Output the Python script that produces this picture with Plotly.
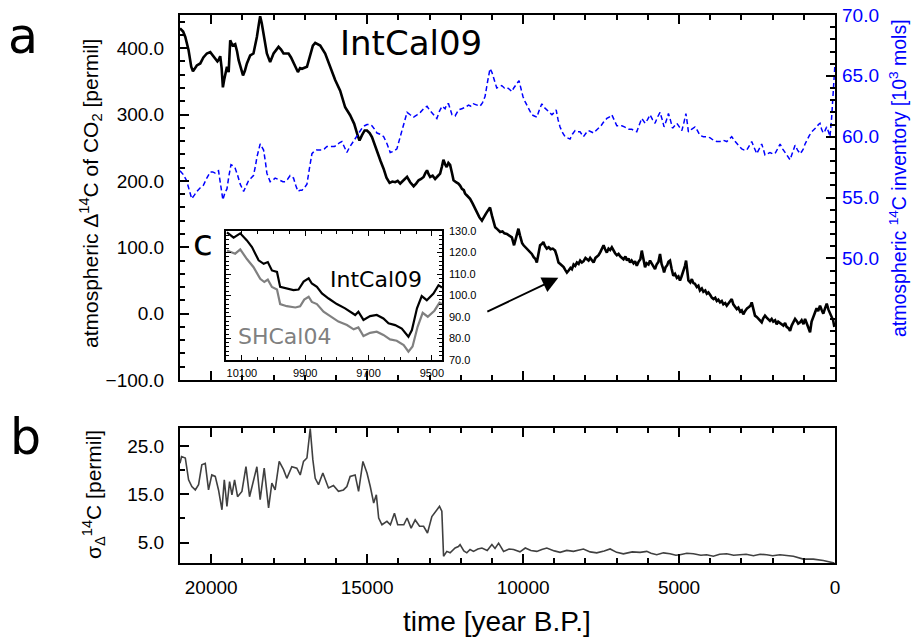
import plotly.graph_objects as go

# ---------------- data ----------------
# IntCal09 atmospheric D14C (permil) vs time (yr BP)
intcal_year = [21000,20900,20830,20725,20640,20585,20460,20350,20250,20140,20030,19925,19800,19765,19710,19665,19625,19585,19550,19495,19440,19390,19315,19230,19170,19120,18980,18920,18855,18750,18645,18535,18460,18430,18380,18320,18215,18110,18000,17840,17760,17680,17520,17440,17360,17220,17150,17090,16930,16825,16740,16665,16505,16345,16185,16025,15865,15705,15545,15415,15300,15245,15165,15080,15005,14920,14845,14685,14570,14470,14380,14280,14190,14100,14020,13940,13850,13720,13620,13510,13430,13350,13270,13190,13130,13080,13030,12980,12900,12820,12740,12660,12600,12555,12500,12450,12395,12340,12280,12230,12150,12075,12020,11960,11900,11860,11800,11700,11620,11540,11460,11400,11320,11260,11200,11160,11110,11060,11000,10950,10895,10820,10735,10660,10600,10520,10440,10360,10320,10290,10240,10190,10150,10100,10060,10030,9985,9930,9880,9830,9775,9720,9660,9600,9560,9510,9455,9400,9350,9300,9240,9180,9120,9050,8975,8920,8865,8790,8700,8650,8595,8540,8480,8435,8380,8330,8275,8220,8170,8115,8060,8000,7955,7900,7850,7790,7740,7680,7640,7580,7520,7470,7420,7370,7315,7260,7210,7155,7100,7050,6995,6940,6880,6830,6780,6720,6670,6620,6570,6520,6460,6410,6355,6300,6240,6195,6140,6090,6040,5980,5930,5880,5830,5770,5720,5660,5610,5560,5510,5480,5430,5380,5340,5290,5240,5185,5130,5070,5020,4970,4920,4870,4810,4775,4740,4700,4640,4590,4540,4490,4430,4380,4330,4270,4220,4160,4110,4060,4000,3950,3895,3840,3790,3740,3685,3630,3580,3520,3470,3420,3360,3310,3260,3200,3150,3100,3040,2990,2940,2880,2820,2760,2710,2670,2620,2565,2510,2460,2400,2350,2300,2245,2190,2140,2085,2030,1980,1920,1870,1820,1760,1710,1655,1600,1550,1490,1440,1390,1330,1280,1230,1180,1120,1070,1010,960,910,860,800,750,700,640,590,540,480,430,375,320,265,210,160,110,60,20]
intcal_d14c = [430,425,417,397,372,365,374,377,386,392,394,387,380,382,388,370,341,352,359,372,364,412,404,406,395,382,359,366,377,389,392,417,440,448,438,422,392,379,392,402,398,392,392,386,377,364,370,369,372,392,404,408,404,392,372,352,336,311,299,286,268,261,269,276,276,272,266,243,230,218,205,197,199,198,200,196,200,206,198,192,196,201,203,206,212,216,210,206,208,203,207,211,222,232,225,221,227,224,212,201,198,196,193,188,186,181,178,173,166,158,152,145,140,146,150,153,157,160,148,138,130,127,123,124,121,120,118,115,108,103,112,122,128,118,110,106,103,100,98,96,93,90,85,82,77,92,103,105,108,102,98,100,97,98,95,87,77,74,70,66,62,65,69,67,74,72,77,75,80,77,79,84,82,80,84,81,77,84,86,88,93,97,103,97,92,98,96,100,94,91,88,90,86,84,82,86,80,83,77,80,76,79,72,78,82,95,80,70,76,74,80,76,72,67,74,78,90,75,68,62,70,73,78,80,68,57,60,54,56,50,56,62,72,80,64,50,47,52,46,45,40,42,35,38,33,35,30,32,28,24,22,24,19,21,17,19,14,16,12,15,18,22,14,10,7,9,3,5,-1,4,8,10,12,17,6,-3,-5,-8,-10,-13,-7,-3,-6,-9,-11,-8,-12,-10,-16,-12,-14,-17,-18,-14,-20,-22,-26,-18,-12,-8,-11,-15,-13,-10,-16,-8,-14,-20,-28,-12,-6,2,8,4,12,6,0,8,15,6,0,-4,-10,-20]

# atmospheric 14C inventory (10^3 mols)
inv_year = [21000,20900,20790,20700,20625,20540,20460,20350,20250,20140,20030,19950,19870,19765,19700,19625,19560,19495,19430,19365,19300,19230,19150,19070,18960,18880,18800,18720,18645,18580,18535,18430,18370,18320,18260,18215,18110,18030,17950,17870,17790,17700,17630,17550,17470,17360,17290,17220,17150,17090,17010,16930,16850,16770,16700,16630,16540,16450,16370,16290,16210,16130,16050,15970,15890,15810,15730,15650,15570,15490,15410,15330,15250,15165,15080,15005,14920,14845,14760,14685,14580,14470,14360,14260,14150,14045,13960,13885,13800,13720,13620,13510,13400,13295,13190,13080,13000,12925,12840,12765,12680,12600,12500,12440,12390,12330,12280,12180,12070,11965,11860,11750,11670,11590,11480,11380,11300,11220,11140,11060,11000,10950,10900,10845,10760,10685,10600,10520,10440,10360,10300,10255,10190,10130,10060,10005,9940,9880,9800,9720,9640,9560,9480,9400,9320,9240,9160,9075,9000,8940,8880,8815,8730,8655,8580,8495,8420,8335,8250,8175,8120,8065,7980,7905,7820,7740,7660,7580,7500,7420,7370,7315,7240,7155,7080,6995,6910,6835,6750,6675,6600,6515,6430,6355,6270,6195,6140,6090,6010,5930,5850,5770,5690,5610,5540,5480,5410,5340,5270,5210,5140,5070,4990,4910,4840,4780,4740,4700,4600,4490,4410,4330,4220,4110,4000,3895,3790,3685,3580,3470,3390,3310,3230,3150,3070,2990,2910,2830,2750,2670,2590,2510,2430,2350,2300,2245,2160,2085,2000,1925,1840,1760,1680,1600,1520,1440,1360,1280,1200,1120,1060,1015,960,905,820,745,660,585,530,480,430,375,320,265,210,160,110,75,20,0]
inv_val = [57.2,56.9,56.4,55.6,54.9,55.2,55.5,55.8,56.0,56.6,57.1,57.1,57.0,57.2,56.2,54.8,55.4,55.7,56.8,57.7,57.6,57.4,56.8,56.1,55.5,55.9,56.4,56.6,56.8,57.6,58.3,59.4,59.1,58.9,57.9,57.0,56.3,56.4,56.6,56.5,56.4,56.3,56.3,56.5,56.8,56.6,56.0,55.5,55.6,55.6,55.8,56.1,57.4,58.6,58.8,58.9,58.9,58.9,59.0,59.2,59.2,59.2,59.2,59.3,59.5,59.6,59.1,58.7,59.1,59.4,59.7,60.0,60.4,60.7,60.9,61.0,61.0,60.9,60.6,60.3,60.2,60.0,59.4,58.7,58.8,59.0,59.8,60.5,61.3,62.0,61.8,61.6,61.8,62.0,62.3,62.5,62.2,62.0,61.7,61.5,62.1,62.5,62.3,62.7,62.7,62.1,61.8,61.7,62.2,62.3,62.4,62.6,62.5,62.7,62.6,62.5,62.8,63.3,64.5,65.6,65.3,64.9,64.4,64.0,64.1,64.2,64.0,64.05,63.9,63.7,64.0,64.2,64.4,64.6,63.9,63.3,62.9,62.6,62.2,61.8,61.7,61.6,62.2,62.7,62.4,62.2,62.0,61.8,62.0,62.2,61.4,60.8,60.3,60.0,59.9,59.8,60.2,60.5,60.4,60.4,60.2,60.0,60.3,60.5,60.4,60.3,60.5,60.7,60.9,61.2,61.3,61.5,61.6,61.8,61.3,60.9,60.9,60.9,60.8,60.7,60.6,60.6,60.5,60.4,61.0,61.5,61.3,61.1,61.4,61.8,61.4,61.1,61.6,62.0,61.4,60.8,61.3,61.9,61.3,60.7,60.9,61.1,60.8,60.5,61.2,61.9,61.2,60.4,60.6,60.8,60.5,60.1,60.0,60.0,59.9,59.7,59.6,59.6,59.7,59.6,59.8,60.0,59.7,59.4,59.2,59.0,58.9,58.9,59.2,59.6,59.1,58.6,59.0,59.4,59.0,58.5,58.6,58.7,58.6,58.6,59.0,59.4,59.0,58.7,58.4,58.1,58.7,59.3,58.9,58.6,58.8,59.0,59.4,59.7,60.1,60.4,60.6,60.8,61.0,61.1,60.6,60.3,60.5,60.8,60.4,60.0,61.5,63.0,65.2,66.0]

# sigma of D14C (permil)
sig_year = [21000,20950,20830,20725,20620,20510,20405,20300,20190,20085,19980,19870,19765,19655,19580,19495,19410,19335,19250,19155,19015,18885,18770,18665,18535,18430,18300,18160,18055,17950,17820,17680,17575,17415,17255,17145,17040,16930,16880,16825,16740,16665,16560,16420,16240,16080,15920,15760,15650,15545,15385,15275,15135,15005,14900,14790,14705,14630,14525,14365,14255,14125,14020,13825,13720,13590,13460,13320,13190,13065,12925,12765,12680,12605,12550,12445,12340,12180,12075,12020,11900,11805,11700,11590,11450,11320,11150,11000,10900,10785,10625,10450,10305,10100,9930,9750,9560,9400,9240,9000,8815,8600,8385,8200,8065,7850,7640,7400,7210,7000,6785,6500,6250,6035,5900,5715,5500,5290,5100,4970,4750,4540,4300,4115,3900,3700,3470,3250,3045,2850,2615,2400,2190,2000,1765,1550,1335,1015,695,375,105,20]
sig_val = [21.4,22.8,22.5,18.0,16.6,15.9,17.0,21.1,21.4,15.9,19.0,18.7,15.9,11.8,18.0,12.5,17.6,14.9,18.0,14.5,15.6,20.7,14.5,17.3,20.7,13.9,20.4,12.2,17.3,15.9,21.8,20.1,18.3,20.7,20.4,19.0,21.8,22.5,25.6,28.6,22.1,18.3,17.0,19.4,16.3,16.8,15.6,15.9,16.6,18.7,19.0,15.6,21.8,19.4,16.6,13.2,14.9,10.1,8.7,9.4,8.7,11.1,8.7,8.7,10.1,8.0,9.7,8.4,8.4,7.0,10.4,11.8,12.5,11.5,2.2,3.2,2.9,3.9,4.2,4.6,3.3,2.9,3.6,3.2,3.7,3.9,3.4,4.6,3.8,4.9,3.2,3.7,3.6,3.1,3.9,3.4,3.2,3.6,3.9,3.3,3.0,3.4,3.2,3.5,3.7,3.1,2.9,3.3,3.7,3.0,2.7,3.1,3.0,3.2,2.8,2.5,2.9,2.7,2.4,2.5,2.8,2.7,2.4,2.5,2.2,2.6,2.7,2.4,2.5,2.6,2.3,2.6,2.5,2.3,2.5,2.4,2.2,1.6,1.6,1.3,0.9,0.8]

# inset c: IntCal09 vs SHCal04
inset_year = [10147,10126,10105,10084,10068,10047,10031,10018,10005,9989,9979,9963,9937,9921,9905,9889,9879,9863,9847,9826,9800,9774,9753,9742,9732,9716,9695,9674,9653,9637,9616,9595,9574,9563,9547,9532,9516,9495,9479,9468]
intcal_inset = [129.5,127.0,129.0,125.7,122.6,116.4,114.8,115.6,111.7,111.0,104.0,103.3,102.5,102.8,106.5,108.0,105.6,104.0,101.0,98.6,96.0,94.0,92.0,90.9,92.4,88.6,90.4,90.9,89.3,87.0,86.2,84.6,80.8,83.9,94.0,99.7,97.8,100.9,104.8,103.7]
sh_year = [10147,10121,10105,10084,10063,10042,10029,10018,10005,9989,9979,9958,9931,9916,9903,9889,9879,9863,9842,9821,9795,9768,9747,9732,9716,9695,9674,9653,9632,9611,9589,9574,9561,9545,9529,9513,9492,9476,9468]
sh_inset = [121.0,119.5,121.5,117.0,113.2,107.8,106.3,107.4,104.0,102.8,96.0,95.0,94.4,95.0,98.1,99.4,97.0,96.0,92.4,90.4,87.8,86.2,84.2,85.1,81.1,82.6,83.1,81.6,79.5,78.9,76.9,73.8,76.2,85.4,91.9,90.1,92.9,96.6,96.0]

# ---------------- figure ----------------
W, H = 912, 639
def px(x): return x / W
def py(y): return 1 - y / H

AR = "Liberation Sans, Arial, sans-serif"
TICKFONT = dict(family=AR, size=19, color="black")
fig = go.Figure()

fig.add_trace(go.Scatter(x=intcal_year, y=intcal_d14c, mode="lines",
                         line=dict(color="black", width=2.6), xaxis="x", yaxis="y"))
fig.add_trace(go.Scatter(x=inv_year, y=inv_val, mode="lines",
                         line=dict(color="#0000ff", width=1.5, dash="5px,3px"), xaxis="x", yaxis="y2"))
fig.add_trace(go.Scatter(x=sig_year, y=sig_val, mode="lines",
                         line=dict(color="#404040", width=1.6), xaxis="x2", yaxis="y3"))
fig.add_trace(go.Scatter(x=sh_year, y=sh_inset, mode="lines",
                         line=dict(color="#808080", width=2.2), xaxis="x3", yaxis="y4"))
fig.add_trace(go.Scatter(x=inset_year, y=intcal_inset, mode="lines",
                         line=dict(color="black", width=2.2), xaxis="x3", yaxis="y4"))

xdom = [px(180), px(835)]
common_x = dict(range=[21000, 0], tick0=0, dtick=5000, tickformat="d", ticks="inside", ticklen=9,
                tickwidth=1.5, tickcolor="black", showline=True, linecolor="black", linewidth=2,
                mirror="ticks", showgrid=False, zeroline=False, automargin=False,
                minor=dict(dtick=1000, ticks="inside", ticklen=5, tickcolor="black", showgrid=False))

fig.update_layout(
    width=W, height=H, autosize=False,
    margin=dict(l=0, r=0, t=0, b=0, pad=0),
    paper_bgcolor="white", plot_bgcolor="white",
    showlegend=False,
    xaxis=dict(domain=xdom, anchor="y", showticklabels=False, **common_x),
    yaxis=dict(domain=[py(380), py(15)], range=[-100, 450], tick0=0, dtick=100, tickformat=".1f",
               ticks="inside", ticklen=9, tickwidth=1.5, tickcolor="black",
               showline=True, linecolor="black", linewidth=2, mirror=True, automargin=False,
               showgrid=False, zeroline=False, tickfont=TICKFONT, ticklabelstandoff=10,
               minor=dict(dtick=20, ticks="inside", ticklen=5, tickcolor="black", showgrid=False)),
    yaxis2=dict(overlaying="y", side="right", anchor="x", range=[40, 70],
                tickvals=[50, 55, 60, 65, 70], tickformat=".1f", automargin=False,
                ticks="inside", ticklen=9, tickwidth=1.5, tickcolor="black",
                showline=False, showgrid=False, zeroline=False,
                tickfont=dict(family=AR, size=19, color="#0000ff"),
                ticklabelstandoff=6,
                minor=dict(dtick=1, ticks="inside", ticklen=5, tickcolor="black", showgrid=False)),
    xaxis2=dict(domain=xdom, anchor="y3", showticklabels=True, tickfont=TICKFONT,
                ticklabelstandoff=6, **common_x),
    yaxis3=dict(domain=[py(563), py(428)], anchor="x2", range=[0.8, 28.7], tick0=5, dtick=10,
                tickformat=".1f", ticks="inside", ticklen=9, tickwidth=1.5, tickcolor="black",
                showline=True, linecolor="black", linewidth=2, mirror=True, automargin=False,
                showgrid=False, zeroline=False, tickfont=TICKFONT, ticklabelstandoff=10,
                minor=dict(dtick=5, ticks="inside", ticklen=5, tickcolor="black", showgrid=False)),
    xaxis3=dict(domain=[px(226), px(442)], anchor="y4", range=[10150, 9468], tick0=9500, dtick=200,
                tickformat="d", ticks="inside", ticklen=5, tickwidth=1, tickcolor="black",
                showline=True, linecolor="black", linewidth=1.5, mirror="ticks", automargin=False,
                showgrid=False, zeroline=False, ticklabelstandoff=2,
                tickfont=dict(family=AR, size=11, color="black"),
                minor=dict(dtick=50, ticks="inside", ticklen=3, tickcolor="black", showgrid=False)),
    yaxis4=dict(domain=[py(360), py(231)], anchor="x3", side="right", range=[69.9, 130.1],
                tick0=70, dtick=10, tickformat=".1f", automargin=False,
                ticks="inside", ticklen=5, tickwidth=1, tickcolor="black",
                showline=True, linecolor="black", linewidth=1.5, mirror="ticks",
                showgrid=False, zeroline=False, ticklabelstandoff=3,
                tickfont=dict(family=AR, size=11, color="black"),
                minor=dict(dtick=2, ticks="inside", ticklen=3, tickcolor="black", showgrid=False)),
)

ann = []
def text(t, x, y, size, color="black", family="DejaVu Sans, sans-serif", angle=0, xanchor="center"):
    ann.append(dict(text=t, x=px(x), y=py(y), xref="paper", yref="paper", showarrow=False,
                    xanchor=xanchor, yanchor="middle", textangle=angle,
                    font=dict(family=family, size=size, color=color)))

text("a", 22.5, 37, 49)
text("b", 25.5, 437, 49)
text("c", 203, 243, 36)
text("IntCal09", 411, 43, 34)
text("IntCal09", 376, 279, 22)
text("SHCal04", 284, 337, 22, color="#808080")
text("atmospheric Δ<sup>14</sup>C of CO<sub>2</sub> [permil]", 91, 194, 21, family=AR, angle=-90)
text("atmospheric <sup>14</sup>C inventory [10<sup>3</sup> mols]", 898, 178, 19.5, color="#0000ff", family=AR, angle=-90)
text("σ<sub>Δ</sub><sup>14</sup>C [permil]", 93, 495, 21, family=AR, angle=-90)
text("time [year B.P.]", 497, 621, 28, family=AR)

ann.append(dict(x=8870, y=54, ax=11195, ay=2, xref="x", yref="y", axref="x", ayref="y",
                text="", showarrow=True, arrowhead=2, arrowsize=1.6, arrowwidth=2, arrowcolor="black"))
fig.update_layout(annotations=ann)

fig.write_html("out.html")
